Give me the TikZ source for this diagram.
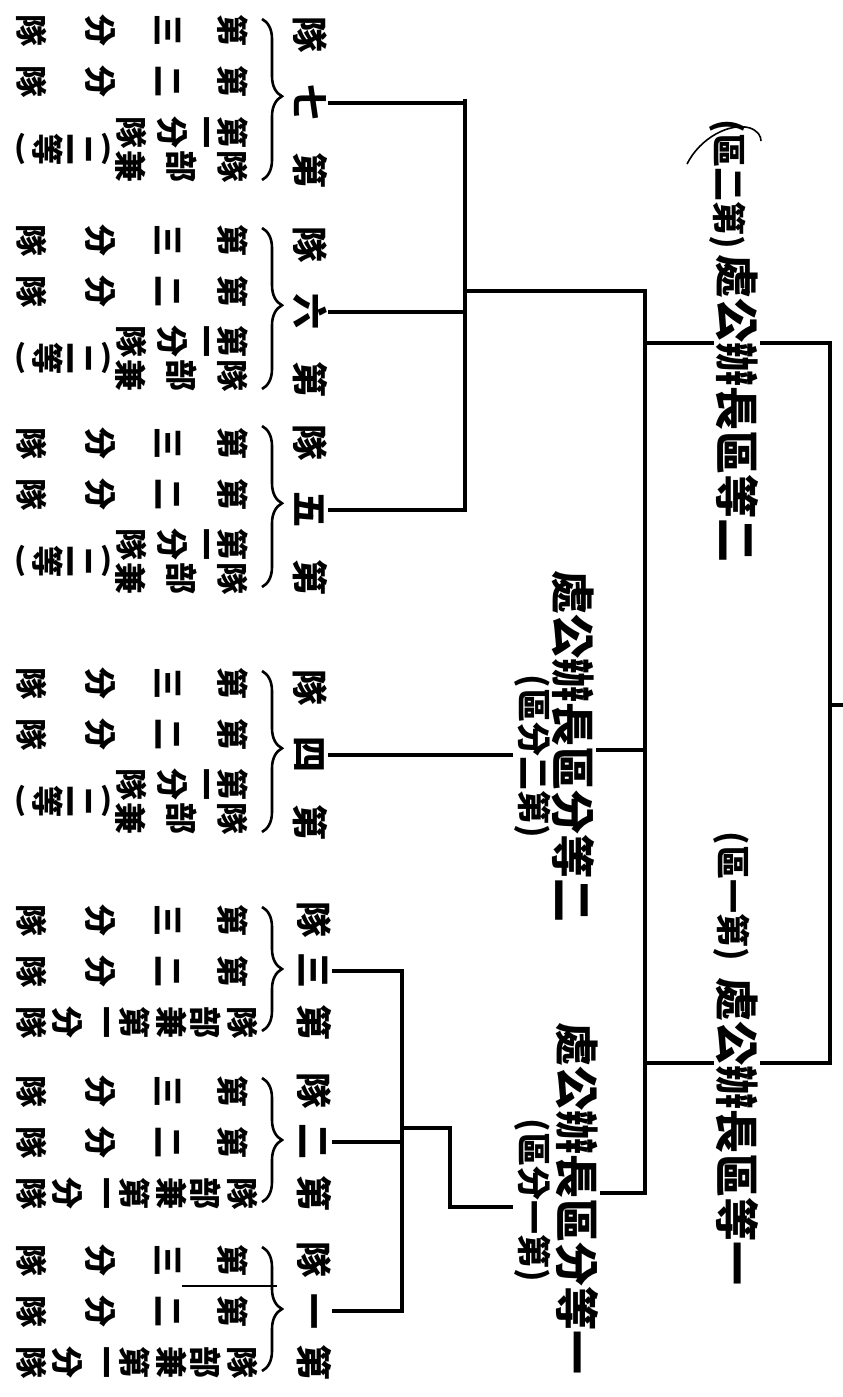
\documentclass[tikz,border=0pt]{standalone}
\usepackage{fontspec}
\newfontfamily\cjk{Noto Sans CJK TC}
\usetikzlibrary{decorations.pathreplacing}
\tikzset{
  conn/.style={line width=3.6pt, line cap=rect},
  leaf/.style={rotate=-90, inner sep=0pt, font=\cjk\bfseries\fontsize{32}{32}\selectfont},
  paren/.style={inner sep=0pt, font=\cjk\bfseries\fontsize{30}{30}\selectfont},
  team/.style={rotate=-90, inner sep=2pt, font=\cjk\bfseries\fontsize{36}{36}\selectfont},
  lab/.style={rotate=-90, inner sep=3pt, font=\cjk\bfseries\fontsize{44}{44}\selectfont},
  sublab/.style={rotate=-90, inner sep=3pt, font=\cjk\bfseries\fontsize{34}{34}\selectfont},
  brc/.style={decorate, decoration={brace, amplitude=20pt, aspect=#1}, line width=2.6pt},
  pencil/.style={line width=1.6pt},
}
% type A team block: #1 y0, #2 numeral, #3 name, #4 shift of the leaves
\newcommand\teamblockA[4]{%
  \node[team] (#3) at (310,#1) {隊\hskip32pt #2\hskip32pt 第};
  \draw[brc=0.48] (262,#1-84) -- (262,#1+77);
  \foreach \cc/\xx in {第/233,三/168,分/100,隊/32}
    \node[leaf] (#3-a-\xx) at (\xx,#1-72+#4) {\cc};
  \foreach \cc/\xx in {第/233,二/168,分/100,隊/32}
    \node[leaf] (#3-b-\xx) at (\xx,#1-21+#4) {\cc};
  \foreach \cc/\xx in {第/233,一/202,分/172,隊/132}
    \node[leaf] (#3-c-\xx) at (\xx,#1+29+#4) {\cc};
  \foreach \cc/\xx in {隊/233,部/182,兼/131}
    \node[leaf] (#3-d-\xx) at (\xx,#1+63+#4) {\cc};
  \node[leaf] (#3-e1) at (80,#1+46+#4) {二};
  \node[leaf] (#3-e2) at (48,#1+46+#4) {等};
  \node[paren] (#3-lp) at (20,#1+46+#4) {(};
  \node[paren] (#3-rp) at (106,#1+46+#4) {)};
}
% type B team block
\newcommand\teamblockB[3]{%
  \node[team] (#3) at (314,#1) {隊\hskip16pt #2\hskip16pt 第};
  \draw[brc=0.5] (262,#1-64) -- (262,#1+60);
  \foreach \cc/\xx in {第/233,三/168,分/100,隊/32}
    \node[leaf] (#3-a-\xx) at (\xx,#1-51) {\cc};
  \foreach \cc/\xx in {第/233,二/168,分/100,隊/32}
    \node[leaf] (#3-b-\xx) at (\xx,#1) {\cc};
  \foreach \cc/\xx in {隊/243,部/206,兼/172,第/135,一/102,分/67,隊/32}
    \node[leaf] (#3-c-\xx) at (\xx,#1+51) {\cc};
}
\begin{document}
\begin{tikzpicture}[x=1pt,y=-1pt]
\useasboundingbox (0,0) rectangle (843,1397);
\fill[white] (0,0) rectangle (843,1397);

% ---- labels of the offices
\node[lab] (topM) at (737,408) {處公辦長區等二};
\node[sublab] (topP) at (728,184) {(區二第)};
\node[lab] (botM) at (737,1131) {處公辦長區等一};
\node[sublab] (botP) at (732,896) {(區一第)};
\node[lab] (midM) at (573,746) {處公辦長區分等二};
\node[sublab] (midP) at (533,756) {(區分二第)};
\node[lab] (lowM) at (577,1198) {處公辦長區分等一};
\node[sublab] (lowP) at (533,1200) {(區分一第)};

% ---- teams
\teamblockA{103}{七}{t7}{0}
\teamblockA{312}{六}{t6}{0}
\teamblockA{510}{五}{t5}{5}
\teamblockA{755}{四}{t4}{0}
\teamblockB{971}{三}{t3}
\teamblockB{1142}{二}{t2}
\teamblockB{1311}{一}{t1}

% ---- coordinates of the bars
\coordinate (root) at (843,705);
\coordinate (rM) at (830,705);
\coordinate (rT) at (830,343);
\coordinate (rB) at (830,1063);
\coordinate (lT) at (645,343);
\coordinate (lB) at (645,1063);
\coordinate (lTop) at (645,291);
\coordinate (lBot) at (645,1193);
\coordinate (lMid) at (645,750);
\coordinate (g1top) at (465,101);
\coordinate (g1bot) at (465,510);
\coordinate (g2top) at (402,971);
\coordinate (g2bot) at (402,1309);
\coordinate (j1) at (402,1128);
\coordinate (j2) at (450,1128);
\coordinate (j3) at (450,1207);

% ---- connectors
\draw[conn] (rM) -- (root);
\draw[conn] (rT) -- (rB);
\draw[conn] (rT) -- (topM.north |- rT);
\draw[conn] (topM.south |- rT) -- (lT);
\draw[conn] (rB) -- (botM.north |- rB);
\draw[conn] (botM.south |- rB) -- (lB);
\draw[conn] (lTop) -- (lBot);
\draw[conn] (lTop) -- (lTop -| g1top);
\draw[conn] (g1top) -- (g1bot);
\draw[conn] (t7.north) -- (t7.north -| g1top);
\draw[conn] (t6.north) -- (t6.north -| g1top);
\draw[conn] (t5.north) -- (t5.north -| g1top);
\draw[conn] (midM.north |- lMid) -- (lMid);
\draw[conn] (t4.north) -- (t4.north -| midP.south);
\draw[conn] (lowM.north |- lBot) -- (lBot);
\draw[conn] (g2top) -- (g2bot);
\draw[conn] (t3.north) -- (t3.north -| g2top);
\draw[conn] (t2.north) -- (t2.north -| g2top);
\draw[conn] (t1.north) -- (t1.north -| g2top);
\draw[conn] (j1) -- (j2) -- (j3) -- (j3 -| lowP.south);

% ---- pencil marks
\draw[pencil] (687,164) .. controls (700,138) and (730,122) .. (750,128) .. controls (758,131) and (761,136) .. (761,141);
\draw[pencil] (182,1286) -- (277,1286);
\end{tikzpicture}
\end{document}
